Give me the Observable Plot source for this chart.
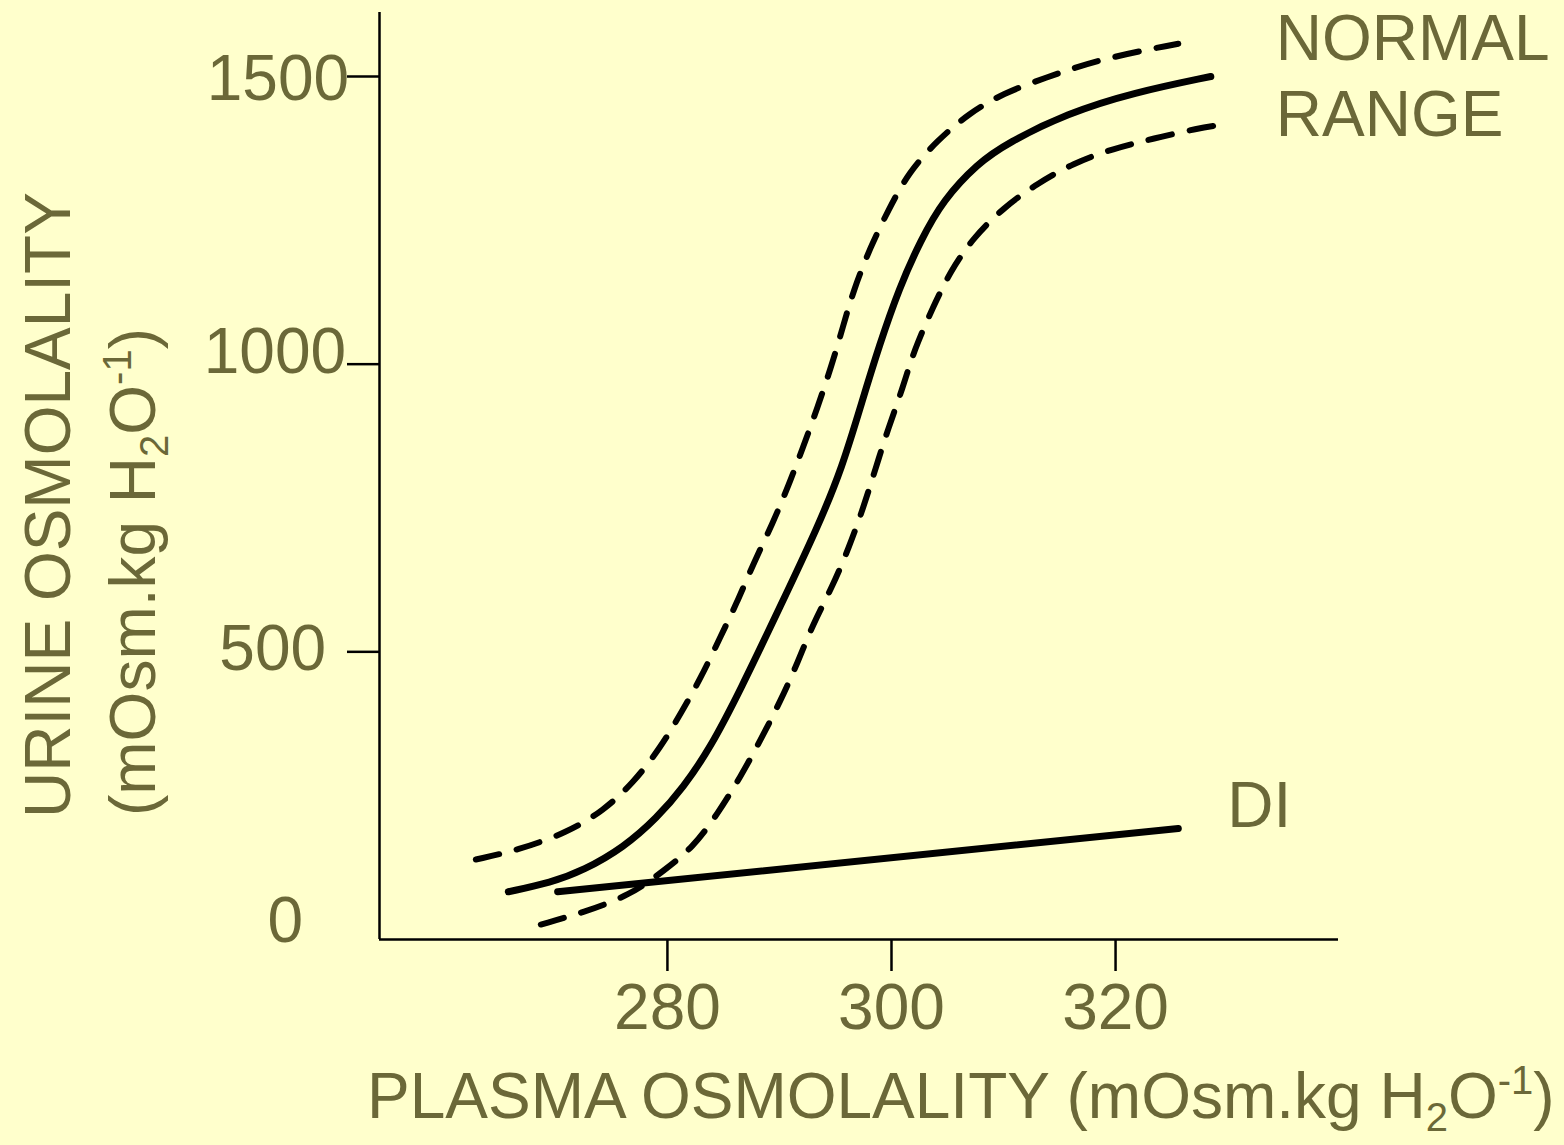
<!DOCTYPE html>
<html>
<head>
<meta charset="utf-8">
<script src="https://cdn.jsdelivr.net/npm/d3@7"></script>
<script src="https://cdn.jsdelivr.net/npm/@observablehq/plot@0.6"></script>
<style>
  html, body { margin: 0; padding: 0; background: #FFFFCC; }
  #chart svg { display: block; }
</style>
</head>
<body>
<div id="chart"></div>
<script>
// ---- Data ----
// Normal curve (solid)
const normalX = [265.8, 269.6, 272.5, 276.1, 279.1, 281.4, 283.8, 286.5, 290.1, 293.4, 295.6, 297.4, 298.9, 300.7, 302.6, 304.6, 307.7, 310.3, 315.7, 321.6, 328.5];
const normalY = [83, 99, 120, 160, 212, 264, 332, 433, 580, 716, 820, 937, 1032, 1133, 1215, 1285, 1349, 1384, 1436, 1472, 1500];
// Upper limit of normal range (dashed)
const upperX = [262.9, 266.6, 271.1, 274.3, 277.0, 279.4, 281.2, 283.0, 284.7, 286.3, 287.7, 289.4, 290.8, 292.1, 293.4, 294.6, 295.7, 296.6, 298.1, 299.7, 301.5, 304.1, 306.9, 310.0, 313.6, 318.7, 325.6];
const upperY = [139, 155, 186, 224, 273, 334, 393, 455, 525, 589, 655, 723, 789, 855, 925, 994, 1067, 1128, 1203, 1267, 1333, 1389, 1436, 1471, 1497, 1531, 1557];
// Lower limit of normal range (dashed)
const lowerX = [268.7, 272.5, 276.7, 279.7, 282.3, 284.5, 286.5, 288.3, 290.1, 291.6, 293.0, 294.7, 296.2, 297.5, 298.6, 299.7, 301.0, 302.0, 303.7, 305.3, 307.3, 310.0, 313.0, 316.2, 319.8, 323.4, 327.3, 330.0];
const lowerY = [26, 47, 77, 120, 160, 219, 282, 346, 415, 480, 549, 612, 681, 751, 820, 888, 958, 1024, 1099, 1163, 1220, 1272, 1314, 1349, 1375, 1392, 1410, 1418];
// Diabetes insipidus line
const diX = [270.2, 325.6];
const diY = [83, 193];

// Ticks and labels
const xTicks = [280, 300, 320];
const xTickLabels = ["280", "300", "320"];
const yTicks = [0, 500, 1000, 1500];
const yTickLabels = ["0", "500", "1000", "1500"];

// Texts
const normalLabel = "NORMAL\nRANGE";
const diLabel = "DI";
const xTitleParts = ["PLASMA OSMOLALITY (mOsm.kg H", "2", "O", "-1", ")"];
const yTitle1 = "URINE OSMOLALITY";
const yTitle2Parts = ["(mOsm.kg H", "2", "O", "-1", ")"];

// ---- Build ----
const textColor = "#6b6838";
const font = "'Liberation Sans', Arial, Helvetica, sans-serif";
const rows = (xs, ys) => xs.map((x, i) => ({x, y: ys[i]}));
const normal = rows(normalX, normalY);
const upper = rows(upperX, upperY);
const lower = rows(lowerX, lowerY);
const di = rows(diX, diY);
const xMin = 254.3, xMax = 339.9;

// per-label layout offsets for the y tick labels (pixels)
const yLabelOffset = {0: [-76.5, -17.5], 500: [-53.4, -2.5], 1000: [-33.4, -12], 1500: [-30.4, 3.5]};

const chart = Plot.plot({
  width: 1564,
  height: 1145,
  marginLeft: 379,
  marginRight: 226,
  marginTop: 12,
  marginBottom: 206,
  x: {domain: [xMin, xMax]},
  y: {domain: [0, 1500], range: [939, 76]},
  style: {background: "#FFFFCC", fontFamily: font, color: textColor},
  marks: [
    Plot.ruleY([0], {stroke: "black", strokeWidth: 2.5}),
    Plot.ruleX([xMin], {stroke: "black", strokeWidth: 2.5}),
    Plot.axisX(xTicks, {
      tickSize: 32, tickPadding: 12, stroke: "black", strokeWidth: 2.5,
      fill: textColor, fontSize: 64, label: null,
      tickFormat: d => xTickLabels[xTicks.indexOf(d)]
    }),
    Plot.axisY(yTicks.filter(v => v > 0), {
      tickSize: 32, stroke: "black", strokeWidth: 2.5, fill: "none", label: null
    }),
    ...yTicks.map((v, i) => Plot.text([v], {
      y: d => d, frameAnchor: "left", text: () => yTickLabels[i],
      textAnchor: "end", lineAnchor: "middle",
      dx: yLabelOffset[v][0], dy: yLabelOffset[v][1],
      fontSize: 64, fill: textColor
    })),
    Plot.line(upper, {x: "x", y: "y", stroke: "black", strokeWidth: 6, strokeDasharray: "24,18", curve: "basis"}),
    Plot.line(lower, {x: "x", y: "y", stroke: "black", strokeWidth: 6, strokeDasharray: "24,18", curve: "basis"}),
    Plot.line(normal, {x: "x", y: "y", stroke: "black", strokeWidth: 7, curve: "basis"}),
    Plot.line(di, {x: "x", y: "y", stroke: "black", strokeWidth: 7}),
    Plot.text([normal[normal.length - 1]], {
      x: "x", y: "y", text: () => normalLabel, textAnchor: "start", lineAnchor: "middle",
      lineHeight: 1.19, dx: 65, dy: -3, fontSize: 64, fill: textColor
    }),
    Plot.text([di[di.length - 1]], {
      x: "x", y: "y", text: () => diLabel, textAnchor: "start", lineAnchor: "middle",
      dx: 49, dy: -22, fontSize: 64, fill: textColor
    })
  ]
});

document.getElementById("chart").appendChild(chart);

// Axis titles with subscript / superscript
const svg = d3.select(chart);
function richText(sel, parts) {
  const [a, sub, b, sup, c] = parts;
  sel.append("tspan").text(a);
  sel.append("tspan").attr("font-size", 40).attr("dy", 13).text(sub);
  sel.append("tspan").attr("dy", -13).text(b);
  sel.append("tspan").attr("font-size", 40).attr("dy", -24).text(sup);
  sel.append("tspan").attr("dy", 24).text(c);
}
const xt = svg.append("text")
  .attr("x", 367).attr("y", 1118).attr("text-anchor", "start")
  .attr("fill", textColor).attr("font-size", 64).attr("font-family", font);
richText(xt, xTitleParts);

svg.append("text")
  .attr("transform", "translate(70,818) rotate(-90)").attr("text-anchor", "start")
  .attr("fill", textColor).attr("font-size", 64).attr("font-family", font)
  .text(yTitle1);
const yt2 = svg.append("text")
  .attr("transform", "translate(155,816) rotate(-90)").attr("text-anchor", "start")
  .attr("fill", textColor).attr("font-size", 64).attr("font-family", font);
richText(yt2, yTitle2Parts);
</script>
</body>
</html>
